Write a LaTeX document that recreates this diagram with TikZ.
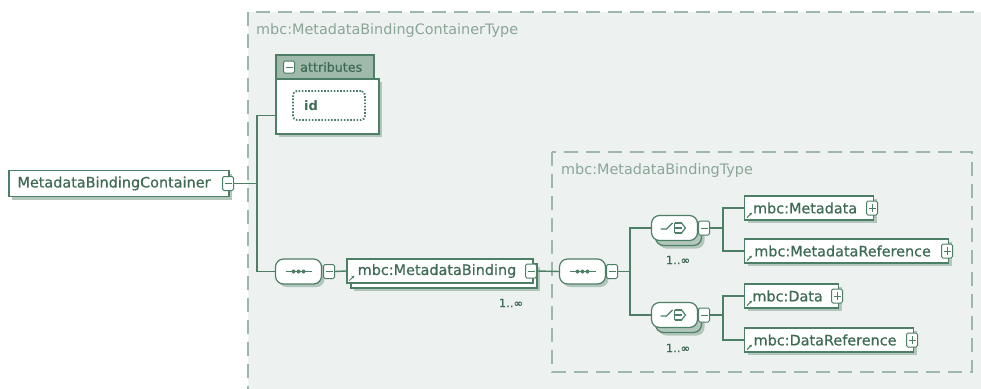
\documentclass[tikz,border=0pt]{standalone}
\usepackage{fontspec}
\setmainfont{DejaVu Sans}
\newfontfamily\elemfont[FakeBold=0.6]{DejaVu Sans}
\usetikzlibrary{shadows,arrows.meta}
\definecolor{gline}{HTML}{4C7F66}
\definecolor{gtext}{HTML}{3E6B55}
\definecolor{glabel}{HTML}{8AA699}
\definecolor{gdash}{HTML}{9DB8AA}
\definecolor{gbg}{HTML}{EDF1EF}
\definecolor{gshadow}{HTML}{B3C6BC}
\definecolor{gheader}{HTML}{9FB9AB}
\tikzset{
  conn/.style={draw=gline, line width=1.4pt},
  typebox/.style={draw=gdash, line width=1.6pt, dash pattern=on 14pt off 8pt},
  typelabel/.style={anchor=west, inner sep=0pt, text=glabel, font=\fontsize{14.4}{16}\selectfont},
  elem/.style={draw=gline, line width=1.2pt, fill=white, minimum height=24pt, inner sep=0pt,
    text=gtext, font=\elemfont\fontsize{14.4}{16}\selectfont,
    drop shadow={shadow xshift=3pt, shadow yshift=-3pt, fill=gshadow, opacity=1}},
  multielem/.style={draw=gline, line width=1.2pt, fill=white, minimum height=24pt, inner sep=0pt,
    text=gtext, font=\elemfont\fontsize{14.4}{16}\selectfont,
    drop shadow={shadow xshift=7pt, shadow yshift=-8pt, fill=gshadow, opacity=1},
    copy shadow={shadow xshift=4pt, shadow yshift=-5pt, draw=gline, fill=white}},
  comp/.style={draw=gline, line width=1.2pt, fill=white, rounded corners=8pt,
    minimum width=46pt, minimum height=25pt, inner sep=0pt,
    drop shadow={shadow xshift=3pt, shadow yshift=-3pt, fill=gshadow, opacity=1}},
  multicomp/.style={draw=gline, line width=1.2pt, fill=white, rounded corners=8pt,
    minimum width=46pt, minimum height=25pt, inner sep=0pt,
    drop shadow={shadow xshift=7pt, shadow yshift=-8pt, fill=gshadow, opacity=1},
    copy shadow={shadow xshift=4pt, shadow yshift=-5pt, draw=gline, fill=gshadow}},
  pmbox/.style={draw=gline, line width=1pt, fill=white, minimum width=11pt, minimum height=14pt,
    inner sep=0pt, rounded corners=1.5pt},
  minus/.style={pmbox, path picture={\draw[gline, line width=1pt]
    ([xshift=2pt]path picture bounding box.west) -- ([xshift=-2pt]path picture bounding box.east);}},
  plus/.style={pmbox, path picture={\draw[gline, line width=1pt]
    ([xshift=2pt]path picture bounding box.west) -- ([xshift=-2pt]path picture bounding box.east)
    ([yshift=-3pt]path picture bounding box.north) -- ([yshift=3pt]path picture bounding box.south);}},
  mult/.style={inner sep=0pt, text=gtext, font=\elemfont\fontsize{11.5}{13}\selectfont},
  refarrow/.style={draw=gline, line width=0.9pt, -{Stealth[length=3pt,width=3pt]}},
}
\newcommand{\seqsym}[1]{%
  \draw[gline, line width=1.3pt] ([xshift=-13pt]#1.center) -- ([xshift=13pt]#1.center);
  \foreach \dx in {-5,0,5} \fill[gline] ([xshift=\dx pt]#1.center) circle (2pt);}
\newcommand{\choicesym}[1]{%
  \draw[gline, line width=1.2pt] ([xshift=-14pt,yshift=-1pt]#1.center) -- ([xshift=-8pt,yshift=-1pt]#1.center)
     -- ([xshift=-2pt,yshift=5pt]#1.center);
  \draw[gline, line width=1.2pt] ([xshift=0pt,yshift=5pt]#1.center) -- ([xshift=0pt,yshift=-5pt]#1.center);
  \foreach \dy in {-5,0,5} \draw[gline, line width=1.2pt] ([xshift=0pt,yshift=\dy pt]#1.center) -- ([xshift=7pt,yshift=\dy pt]#1.center);
  \draw[gline, line width=1.2pt] ([xshift=7pt,yshift=5pt]#1.center) -- ([xshift=11pt,yshift=0pt]#1.center) -- ([xshift=7pt,yshift=-5pt]#1.center);}
\newcommand{\refmark}[1]{%
  \draw[refarrow] ([xshift=3pt,yshift=3pt]#1.south west) -- ([xshift=8pt,yshift=8pt]#1.south west);}
\begin{document}
\begin{tikzpicture}[x=1pt,y=-1pt]
\useasboundingbox (0,0) rectangle (981,388);
\begin{scope}
\clip (0,0) rectangle (981,388);
% outer type box
\fill[gbg] (248,12) rectangle (1000,400);
\draw[typebox] (248,400) -- (248,12) -- (1000,12);
\node[typelabel] (outerlabel) at (256,31) {mbc:MetadataBindingContainerType};
% inner type box
\draw[typebox] (552,152) rectangle (972,372);
\node[typelabel] (innerlabel) at (561,171) {mbc:MetadataBindingType};

% root element
\node[elem, minimum width=220pt, minimum height=26pt] (root) at (119,183.5) {MetadataBindingContainer\hspace*{10pt}};
\node[minus] (rootpm) at (228,183.5) {};

% attributes
\node[draw=gline, line width=1.2pt, fill=white, minimum width=103pt, minimum height=55pt, inner sep=0pt,
  drop shadow={shadow xshift=3pt, shadow yshift=-3pt, fill=gshadow, opacity=1}] (attrbody) at (327.5,106.5) {};
\node[draw=gline, line width=1.2pt, fill=gheader, minimum width=98pt, minimum height=24pt, inner sep=0pt] (attrhead) at (325,67) {};
\node[minus, minimum width=11pt, minimum height=12pt] (attrpm) at (289,67) {};
\node[anchor=west, inner sep=0pt, text=gtext, font=\elemfont\fontsize{12.7}{14}\selectfont] (attrlabel) at (300,67) {attributes};
\node[draw=gline, line width=1.8pt, dash pattern=on 1.6pt off 1.6pt, rounded corners=4pt, fill=white,
  minimum width=72pt, minimum height=29pt, inner sep=0pt] (idbox) at (329,105.5) {};
\node[anchor=west, inner sep=0pt, text=gtext, font=\bfseries\fontsize{13}{15}\selectfont] (idlabel) at (304,105.5) {id};

% sequence 1
\node[comp] (seq1) at (298.5,271.5) {};
\seqsym{seq1}
\node[minus] (seq1pm) at (329,271.5) {};

% MetadataBinding
\node[multielem, minimum width=186pt] (bind) at (440,271) {mbc:MetadataBinding\hspace*{6pt}};
\refmark{bind}
\node[minus] (bindpm) at (531,271) {};
\node[mult] (bindm) at (511,303) {1..∞};

% sequence 2
\node[comp] (seq2) at (582.5,271.5) {};
\seqsym{seq2}
\node[minus] (seq2pm) at (612,271.5) {};

% choices
\node[multicomp] (ch1) at (674.5,228) {};
\choicesym{ch1}
\node[minus] (ch1pm) at (704,228) {};
\node[mult] (ch1m) at (678,260) {1..∞};

\node[multicomp] (ch2) at (674.5,315) {};
\choicesym{ch2}
\node[minus] (ch2pm) at (704,315) {};
\node[mult] (ch2m) at (678,348) {1..∞};

% leaf elements
\node[elem, minimum width=129pt, anchor=west] (md) at (744,208) {mbc:Metadata\hspace*{8pt}};
\refmark{md}
\node[plus] (mdpm) at (872,208) {};
\node[elem, minimum width=204pt, anchor=west] (mdr) at (744,251) {mbc:MetadataReference\hspace*{8pt}};
\refmark{mdr}
\node[plus] (mdrpm) at (947,251) {};
\node[elem, minimum width=94pt, anchor=west] (dat) at (744,296) {mbc:Data\hspace*{8pt}};
\refmark{dat}
\node[plus] (datpm) at (837,296) {};
\node[elem, minimum width=169pt, anchor=west] (datr) at (744,340) {mbc:DataReference\hspace*{8pt}};
\refmark{datr}
\node[plus] (datrpm) at (912,340) {};

% junctions
\coordinate (j1) at (257,183.5);
\coordinate (j2) at (630,271.5);
\coordinate (j3) at (723,228);
\coordinate (j4) at (723,315);

% connectors
\draw[conn] (rootpm.east) -- (j1);
\draw[conn] (j1) |- ([yshift=-9pt]attrbody.west);
\draw[conn] (j1) |- (seq1.west);
\draw[conn] (seq1pm.east) -- (bind.west);
\draw[conn] (bindpm.east) -- (seq2.west);
\draw[conn] (seq2pm.east) -- (j2);
\draw[conn] (j2) |- (ch1.west);
\draw[conn] (j2) |- (ch2.west);
\draw[conn] (ch1pm.east) -- (j3);
\draw[conn] (j3) |- (md.west);
\draw[conn] (j3) |- (mdr.west);
\draw[conn] (ch2pm.east) -- (j4);
\draw[conn] (j4) |- (dat.west);
\draw[conn] (j4) |- (datr.west);
\end{scope}
\end{tikzpicture}
\end{document}
